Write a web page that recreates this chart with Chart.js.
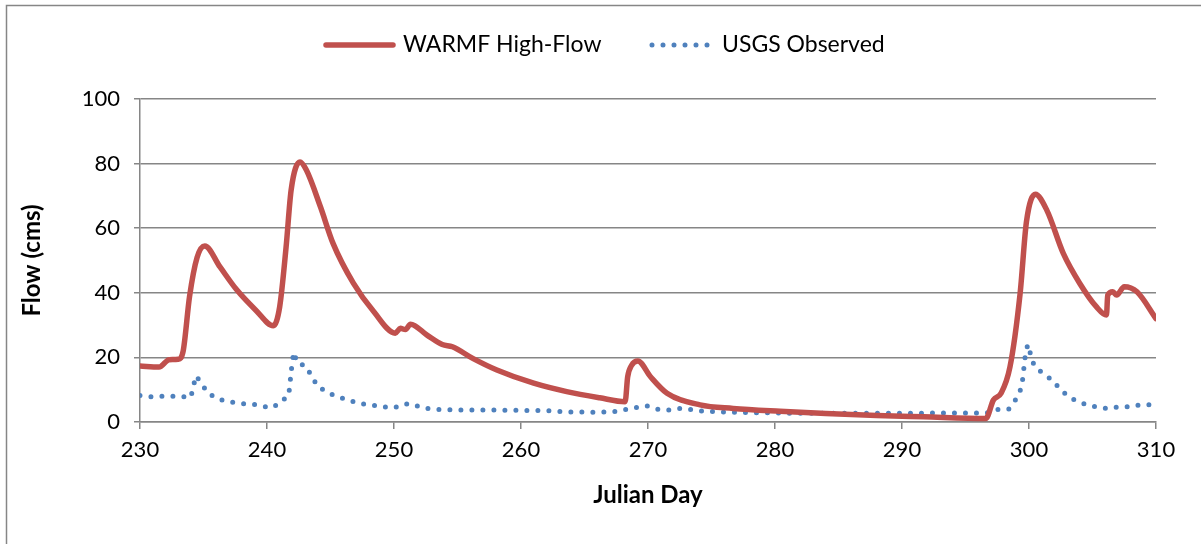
<!DOCTYPE html>
<html>
<head>
<meta charset="utf-8">
<script src="https://cdn.jsdelivr.net/npm/chart.js@4.4.1/dist/chart.umd.min.js"></script>
<style>
  body { margin: 0; background: #fff; }
  canvas { display: block; }
</style>
</head>
<body>
<canvas id="chart1" width="1201" height="544"></canvas>
<script>
// WARMF simulated flow (julian day / cms)
const warmfDays = [230, 231.5, 232.3, 233.0, 233.4, 233.9, 234.5, 235.1, 236.3, 237.6, 239.1, 240.5,
  241.0, 241.5, 241.9, 242.6, 243.1, 244.2, 245.2, 246.8, 248.4, 250.1, 250.5, 250.9, 251.3, 252.6,
  253.8, 254.6, 256.2, 258.1, 261, 263.6, 266.2, 268.2, 268.4, 268.7, 269.2, 270.2, 271.5, 274.1,
  276.7, 280.4, 284, 288, 291.7, 296.6, 297.2, 297.8, 298.5, 299.3, 299.8, 300.5, 301.4, 302.7,
  304, 305.3, 306.1, 306.2, 306.6, 306.9, 307.5, 308.5, 310];
const warmfFlow = [17.3, 17, 19.3, 19.4, 22, 38.8, 51, 54.5, 48, 41, 34.7, 29.8,
  35.7, 54, 71.8, 80.5, 78, 66.7, 55.3, 43, 34.2, 27.5, 29, 28.6, 30.3, 26.9,
  24, 23.3, 19.7, 16.1, 12, 9.4, 7.5, 6.3, 14, 17.5, 18.9, 14, 8.9, 5.3,
  4.2, 3.3, 2.6, 2, 1.6, 1.1, 6.8, 8.9, 17, 39.8, 62, 70.5, 65.6, 52.2,
  42.9, 35.7, 33.1, 39.3, 40.3, 39.3, 41.9, 40.3, 32];

// USGS observed flow
const usgsDays = [230, 231, 232, 233, 234, 234.4, 234.8, 235.3, 236, 237, 238, 239, 240, 240.5,
  241.1, 241.7, 241.8, 241.9, 242.0, 242.1, 242.4, 243.1, 243.5, 244, 244.7, 245.6, 246.4, 247.3,
  248.2, 249.1, 250, 250.9, 251.4, 252.2, 253, 254, 256, 258, 260, 262, 264, 266, 267.3, 268.3,
  269.1, 269.9, 270.8, 271.7, 272.6, 273.5, 274.4, 276, 278, 280, 282, 286, 290, 294, 296.7,
  297.6, 298.4, 298.9, 299.3, 299.5, 299.6, 299.7, 299.9, 300.2, 300.4, 300.8, 301.3, 301.9,
  302.5, 303.2, 303.9, 304.8, 305.3, 306.2, 307.1, 308, 308.8, 310];
const usgsFlow = [8.2, 7.8, 8.0, 8.0, 7.6, 14.3, 12.2, 9.2, 7.3, 6.3, 5.7, 5.4, 4.6, 4.5,
  6.5, 8, 11.5, 15.5, 18.7, 21.6, 18.2, 17.3, 14.2, 11.1, 9.2, 7.8, 6.8, 5.7,
  5.3, 4.7, 4.4, 5.6, 5.6, 4.4, 4.0, 3.8, 3.7, 3.7, 3.6, 3.5, 3.1, 3.0, 3.2, 3.9,
  4.5, 5.0, 3.9, 3.7, 4.2, 3.8, 3.3, 3.1, 2.9, 2.8, 2.7, 2.7, 2.7, 2.8, 2.8,
  3.9, 4.0, 6.6, 9.6, 13.2, 16.8, 20.4, 24, 20, 17.5, 16, 14.5, 12.7,
  9.9, 7.6, 6.2, 5.0, 4.7, 4.1, 4.7, 4.7, 5.4, 5.3];

const xTicks = [230, 240, 250, 260, 270, 280, 290, 300, 310];
const yTicks = [0, 20, 40, 60, 80, 100];

const seriesNames = ['WARMF High-Flow', 'USGS Observed'];
const red = '#C0504D';
const blue = '#4F81BD';
const gridColor = '#868686';
const fontFamily = 'Lato, "Open Sans", sans-serif';

const toPoints = (xs, ys) => xs.map((x, i) => ({ x: x, y: ys[i] }));

// frame around the whole chart + legend
const framePlugin = {
  id: 'frame',
  beforeDraw(chart) {
    const c = chart.ctx;
    c.save();
    c.fillStyle = '#fff';
    c.fillRect(0, 0, chart.width, chart.height);
    c.strokeStyle = gridColor;
    c.lineWidth = 1.5;
    c.strokeRect(6.5, 5.5, chart.width + 20, chart.height + 20);
    c.restore();
  },
  afterDraw(chart) {
    const c = chart.ctx;
    const y = 45;
    c.save();
    c.font = '23px ' + fontFamily;
    c.fillStyle = '#000';
    c.textBaseline = 'middle';
    // red line
    c.strokeStyle = red;
    c.lineWidth = 5.5;
    c.lineCap = 'round';
    c.beginPath(); c.moveTo(326, y); c.lineTo(393, y); c.stroke();
    c.fillText(seriesNames[0], 403, y);
    // dotted line
    c.strokeStyle = blue;
    c.lineWidth = 5;
    c.setLineDash([0, 11]);
    c.beginPath(); c.moveTo(652, y); c.lineTo(712, y); c.stroke();
    c.setLineDash([]);
    c.fillText(seriesNames[1], 722, y);
    c.restore();
  }
};

new Chart(document.getElementById('chart1').getContext('2d'), {
  type: 'line',
  data: {
    datasets: [{
      label: seriesNames[0],
      data: toPoints(warmfDays, warmfFlow),
      borderColor: red,
      borderWidth: 5.5,
      borderCapStyle: 'round',
      borderJoinStyle: 'round',
      cubicInterpolationMode: 'monotone',
      pointRadius: 0,
      fill: false
    }, {
      label: seriesNames[1],
      data: toPoints(usgsDays, usgsFlow),
      borderColor: blue,
      borderWidth: 5,
      borderDash: [0, 11],
      borderCapStyle: 'round',
      tension: 0,
      pointRadius: 0,
      fill: false
    }]
  },
  options: {
    responsive: false,
    animation: false,
    layout: { padding: { top: 99, right: 45, left: 0, bottom: 0 } },
    plugins: {
      legend: { display: false },
      tooltip: { enabled: false }
    },
    scales: {
      x: {
        type: 'linear',
        min: 230,
        max: 310,
        afterBuildTicks: s => { s.ticks = xTicks.map(v => ({ value: v })); },
        afterFit: s => { s.height = 122; },
        grid: { drawOnChartArea: false, color: gridColor, lineWidth: 1.5, tickLength: 7 },
        border: { color: gridColor, width: 1.5 },
        ticks: { color: '#000', font: { family: fontFamily, size: 22 }, padding: 8, maxRotation: 0 },
        title: {
          display: true, text: 'Julian Day', color: '#000',
          font: { family: fontFamily, size: 24, weight: 'bold' },
          padding: { top: 0, bottom: 34 }
        }
      },
      y: {
        min: 0,
        max: 100,
        afterBuildTicks: s => { s.ticks = yTicks.map(v => ({ value: v })); },
        afterFit: s => { s.width = 140; },
        grid: { color: gridColor, lineWidth: 1.5, tickLength: 6 },
        border: { color: gridColor, width: 1.5 },
        ticks: { color: '#000', font: { family: fontFamily, size: 22 }, padding: 14 },
        title: {
          display: true, text: 'Flow (cms)', color: '#000',
          font: { family: fontFamily, size: 24, weight: 'bold' },
          padding: { top: 18, bottom: 0 }
        }
      }
    }
  },
  plugins: [framePlugin]
});
</script>
</body>
</html>
